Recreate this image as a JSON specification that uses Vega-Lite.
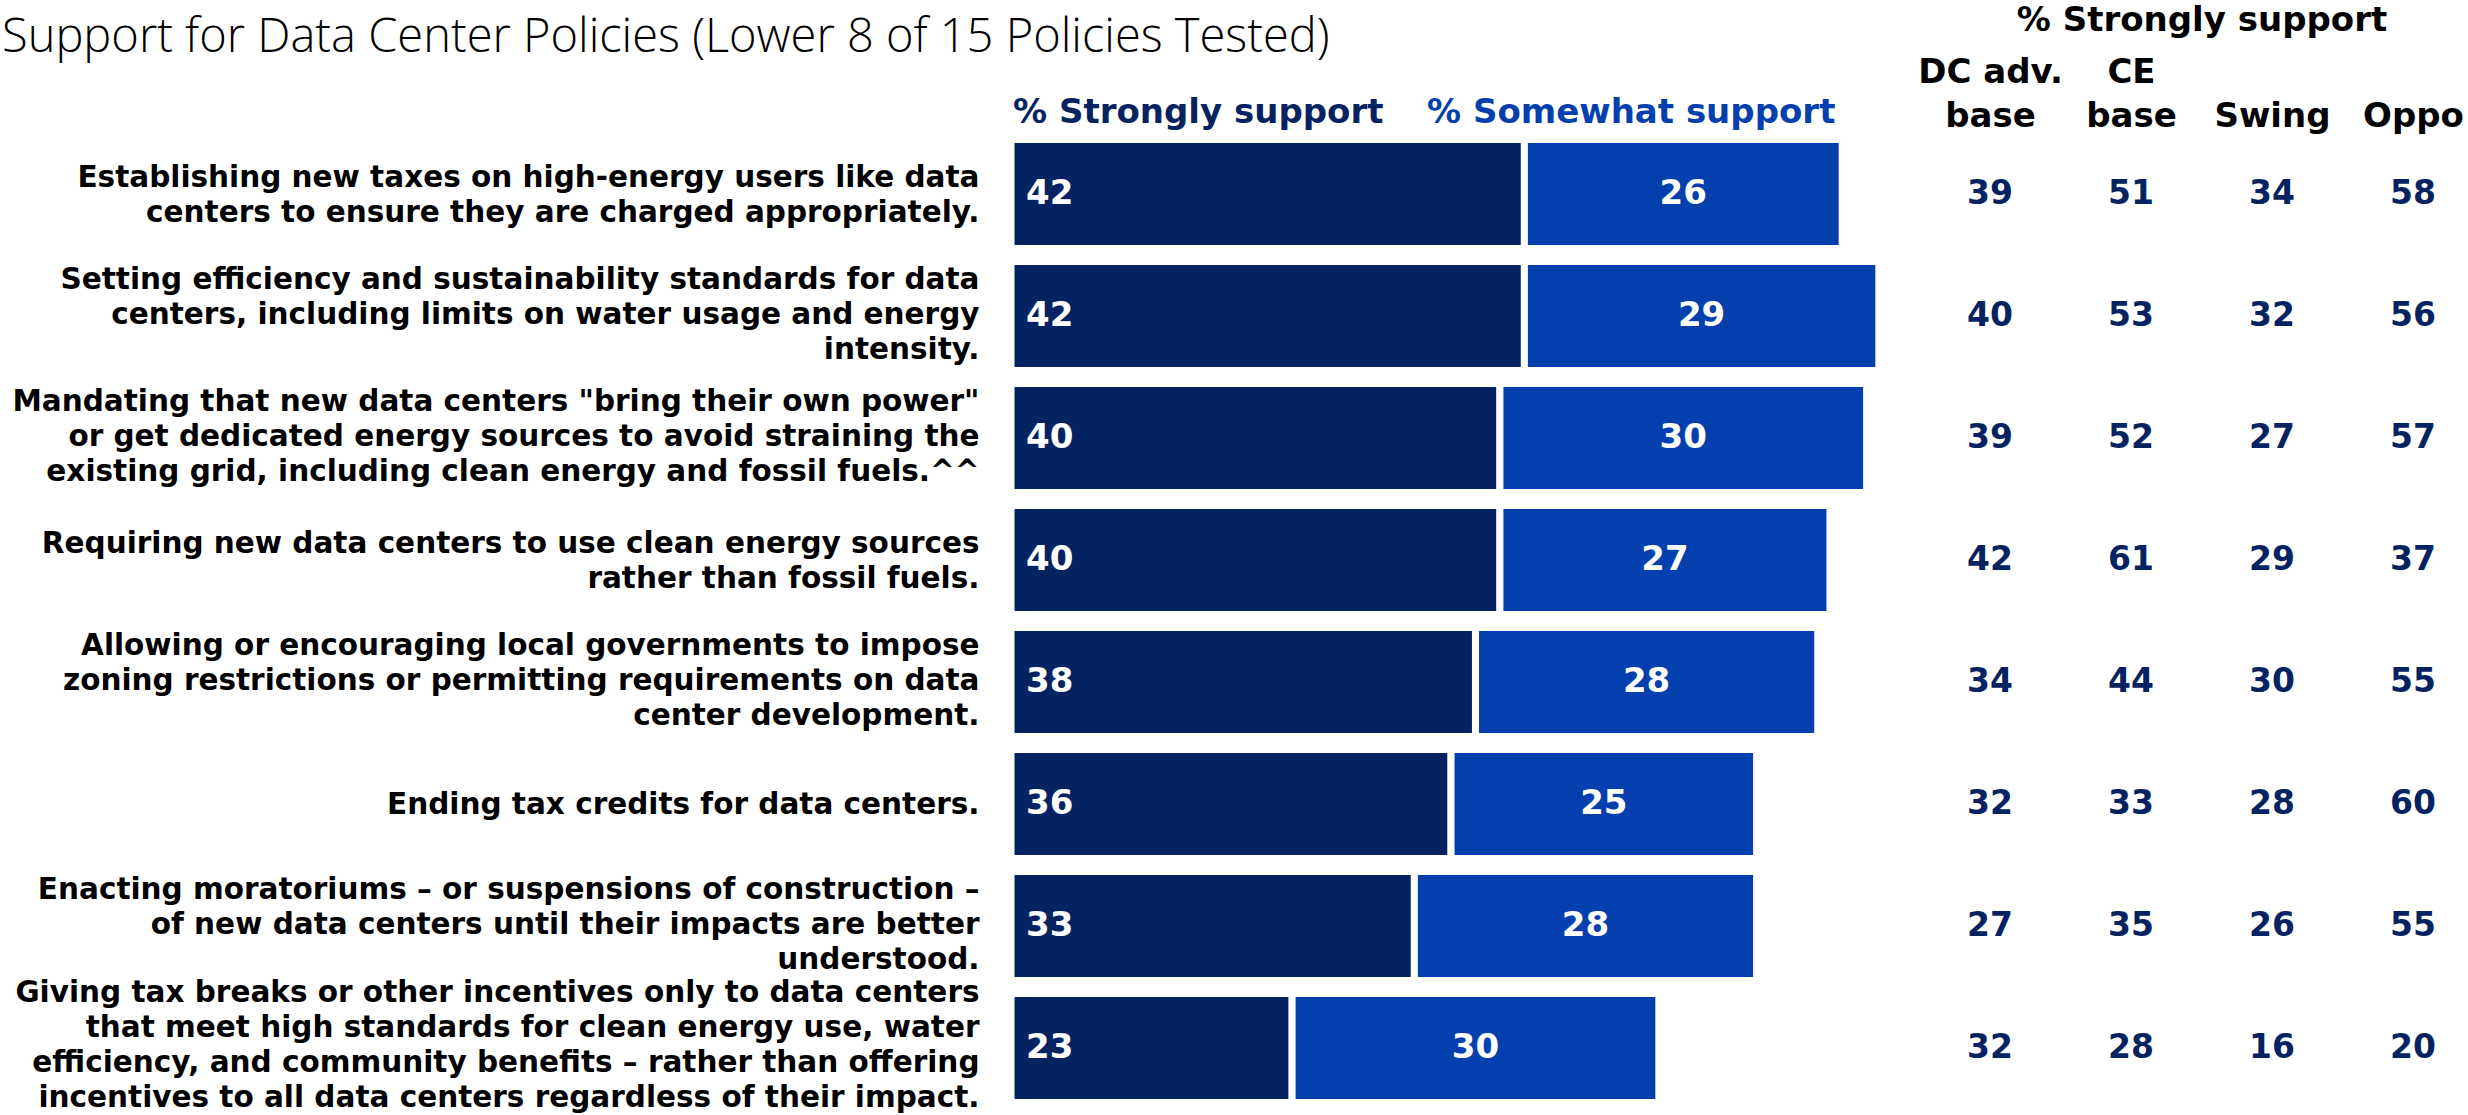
{
  "$schema": "https://vega.github.io/schema/vega-lite/v6.json",
  "autosize": {"type": "none"},
  "width": 1457,
  "height": 976,
  "padding": {"left": 1011, "top": 133, "right": 0, "bottom": 6},
  "background": "white",
  "title": {
    "text": "Support for Data Center Policies (Lower 8 of 15 Policies Tested)",
    "anchor": "start",
    "frame": "group",
    "font": "Open Sans",
    "fontWeight": 300,
    "fontSize": 47,
    "color": "black",
    "dx": -1009,
    "dy": 63
  },
  "config": {"view": {"stroke": null}, "font": "DejaVu Sans"},
  "data": {
    "values": [
      {"policy": "Establishing new taxes on high-energy users like data|centers to ensure they are charged appropriately.", "Strongly": 42, "Somewhat": 26, "DC": 39, "CE": 51, "Swing": 34, "Oppo": 58},
      {"policy": "Setting efficiency and sustainability standards for data|centers, including limits on water usage and energy|intensity.", "Strongly": 42, "Somewhat": 29, "DC": 40, "CE": 53, "Swing": 32, "Oppo": 56},
      {"policy": "Mandating that new data centers \"bring their own power\"|or get dedicated energy sources to avoid straining the|existing grid, including clean energy and fossil fuels.^^", "Strongly": 40, "Somewhat": 30, "DC": 39, "CE": 52, "Swing": 27, "Oppo": 57},
      {"policy": "Requiring new data centers to use clean energy sources|rather than fossil fuels.", "Strongly": 40, "Somewhat": 27, "DC": 42, "CE": 61, "Swing": 29, "Oppo": 37},
      {"policy": "Allowing or encouraging local governments to impose|zoning restrictions or permitting requirements on data|center development.", "Strongly": 38, "Somewhat": 28, "DC": 34, "CE": 44, "Swing": 30, "Oppo": 55},
      {"policy": "Ending tax credits for data centers.", "Strongly": 36, "Somewhat": 25, "DC": 32, "CE": 33, "Swing": 28, "Oppo": 60},
      {"policy": "Enacting moratoriums – or suspensions of construction –|of new data centers until their impacts are better|understood.", "Strongly": 33, "Somewhat": 28, "DC": 27, "CE": 35, "Swing": 26, "Oppo": 55},
      {"policy": "Giving tax breaks or other incentives only to data centers|that meet high standards for clean energy use, water|efficiency, and community benefits – rather than offering|incentives to all data centers regardless of their impact.", "Strongly": 23, "Somewhat": 30, "DC": 32, "CE": 28, "Swing": 16, "Oppo": 20}
    ]
  },
  "encoding": {
    "y": {
      "field": "policy",
      "type": "nominal",
      "sort": null,
      "scale": {"paddingInner": 0.107, "paddingOuter": 0.0535},
      "axis": {
        "title": null,
        "domain": false,
        "ticks": false,
        "grid": false,
        "labelPadding": 32,
        "labelLimit": 0,
        "labelFont": "DejaVu Sans",
        "labelFontWeight": 700,
        "labelFontSize": 29.5,
        "labelColor": "black",
        "labelLineHeight": 35,
        "labelExpr": "split(datum.label, '|')",
        "labelOffset": {
          "condition": [
            {"test": "length(split(datum.label, '|')) == 2", "value": -16},
            {"test": "length(split(datum.label, '|')) == 3", "value": -36},
            {"test": "length(split(datum.label, '|')) == 4", "value": -55}
          ],
          "value": 1
        }
      }
    }
  },
  "layer": [
    {
      "transform": [{"fold": ["Strongly", "Somewhat"], "as": ["measure", "value"]}],
      "layer": [
        {
          "mark": {"type": "bar", "stroke": "white", "strokeWidth": 7},
          "encoding": {
            "x": {"field": "value", "type": "quantitative", "stack": "zero", "scale": {"domain": [0, 119.2], "nice": false}, "axis": null},
            "color": {
              "field": "measure",
              "type": "nominal",
              "scale": {"domain": ["Strongly", "Somewhat"], "range": ["#052361", "#0340ad"]},
              "legend": {
                "title": null,
                "orient": "none",
                "legendX": -32,
                "legendY": -37,
                "direction": "horizontal",
                "symbolSize": 0,
                "symbolOpacity": 0,
                "symbolStrokeWidth": 0,
                "labelOffset": 0,
                "columnPadding": 9,
                "padding": 0,
                "labelFont": "DejaVu Sans",
                "labelFontSize": 34,
                "labelFontWeight": 700,
                "labelLimit": 0,
                "labelExpr": "'% ' + datum.label + ' support'",
                "labelColor": {"expr": "datum.value === 'Strongly' ? '#052361' : '#0340ad'"}
              }
            },
            "order": {"field": "measure", "sort": "descending"}
          }
        },
        {
          "mark": {"type": "text", "align": "left", "baseline": "middle", "dx": 15, "color": "white", "font": "DejaVu Sans", "fontWeight": 700, "fontSize": 34},
          "encoding": {
            "x": {"field": "value", "type": "quantitative", "stack": "zero", "bandPosition": 0},
            "detail": {"field": "measure"},
            "order": {"field": "measure", "sort": "descending"},
            "text": {"condition": {"test": "datum.measure === 'Strongly'", "field": "value", "type": "quantitative"}, "value": ""}
          }
        },
        {
          "mark": {"type": "text", "align": "center", "baseline": "middle", "color": "white", "font": "DejaVu Sans", "fontWeight": 700, "fontSize": 34},
          "encoding": {
            "x": {"field": "value", "type": "quantitative", "stack": "zero", "bandPosition": 0.5},
            "detail": {"field": "measure"},
            "order": {"field": "measure", "sort": "descending"},
            "text": {"condition": {"test": "datum.measure === 'Somewhat'", "field": "value", "type": "quantitative"}, "value": ""}
          }
        }
      ]
    },
    {
      "transform": [{"fold": ["DC", "CE", "Swing", "Oppo"], "as": ["group", "pct"]}],
      "mark": {"type": "text", "align": "center", "baseline": "middle", "color": "#052361", "font": "DejaVu Sans", "fontWeight": 700, "fontSize": 33},
      "encoding": {
        "x": {
          "field": "group",
          "type": "nominal",
          "sort": null,
          "scale": {"type": "point", "range": [979, 1402], "padding": 0},
          "axis": {
            "orient": "top",
            "title": "% Strongly support",
            "titleFont": "DejaVu Sans",
            "titleFontSize": 34,
            "titleFontWeight": 700,
            "titleColor": "black",
            "titlePadding": 18,
            "labelFont": "DejaVu Sans",
            "labelFontSize": 34,
            "labelFontWeight": 700,
            "labelColor": "black",
            "labelLineHeight": 44,
            "labelPadding": 44,
            "labelAngle": 0,
            "labelLimit": 0,
            "domain": false,
            "ticks": false,
            "grid": false,
            "labelExpr": "datum.value === 'DC' ? ['DC adv.', 'base'] : datum.value === 'CE' ? ['CE', 'base'] : ['', datum.label]"
          }
        },
        "text": {"field": "pct", "type": "quantitative"}
      }
    }
  ],
  "resolve": {"scale": {"x": "independent"}}
}
